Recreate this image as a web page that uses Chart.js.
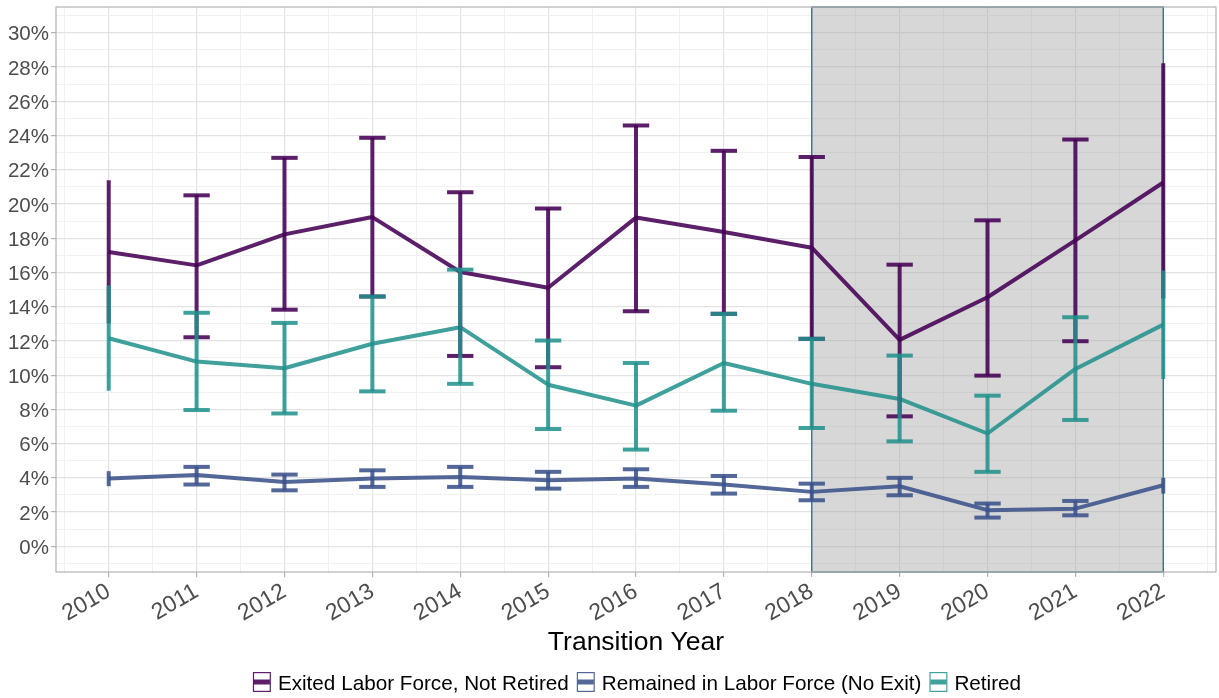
<!DOCTYPE html>
<html>
<head>
<meta charset="utf-8">
<script src="https://cdn.jsdelivr.net/npm/chart.js@4.4.1/dist/chart.umd.min.js"></script>
<style>
  html, body { margin: 0; padding: 0; background: #ffffff; }
  #wrap { width: 1219px; height: 698px; position: relative; }
  canvas { display: block; }
</style>
</head>
<body>
<div id="wrap"><canvas id="chart" width="1219" height="698"></canvas></div>
<script>
// Transition years (x axis)
const years = [2010, 2011, 2012, 2013, 2014, 2015, 2016, 2017, 2018, 2019, 2020, 2021, 2022];

// Series labels
const seriesNames = [
  'Exited Labor Force, Not Retired',
  'Remained in Labor Force (No Exit)',
  'Retired'
];

// Estimated shares (%) with confidence bounds
const exitedEst  = [17.19, 16.41, 18.22, 19.23, 16.02, 15.10, 19.20, 18.36, 17.44, 12.06, 14.55, 17.87, 21.25];
const exitedLow  = [13.01, 12.21, 13.82, 14.59, 11.12, 10.46, 13.73, 13.58, 12.12,  7.59,  9.97, 11.98, 14.48];
const exitedHigh = [21.38, 20.50, 22.69, 23.86, 20.68, 19.73, 24.58, 23.10, 22.74, 16.45, 19.04, 23.76, 28.21];

const remainedEst  = [3.96, 4.17, 3.76, 3.96, 4.05, 3.86, 3.96, 3.61, 3.18, 3.51, 2.11, 2.20, 3.57];
const remainedLow  = [3.51, 3.61, 3.27, 3.47, 3.47, 3.37, 3.47, 3.08, 2.69, 2.98, 1.68, 1.81, 3.08];
const remainedHigh = [4.39, 4.64, 4.19, 4.44, 4.64, 4.35, 4.50, 4.11, 3.66, 4.00, 2.50, 2.65, 4.00];

const retiredEst  = [12.15, 10.79, 10.40, 11.83, 12.80,  9.44,  8.22, 10.71,  9.49,  8.61, 6.59, 10.36, 12.95];
const retiredLow  = [ 9.09,  7.96,  7.76,  9.05,  9.49,  6.85,  5.65,  7.92,  6.91,  6.13, 4.35,  7.38,  9.78];
const retiredHigh = [15.24, 13.64, 13.05, 14.59, 16.16, 12.02, 10.71, 13.58, 12.12, 11.14, 8.80, 13.38, 16.11];

// Highlighted period
const shadeStart = 2018;
const shadeEnd = 2022;

// Y axis: labelled ticks every 2%, minor lines at odd values
const yMajorTicks = [0, 2, 4, 6, 8, 10, 12, 14, 16, 18, 20, 22, 24, 26, 28, 30];
const yMinorTicks = [-1, 1, 3, 5, 7, 9, 11, 13, 15, 17, 19, 21, 23, 25, 27, 29, 31];
// X axis: labelled years, minor lines halfway between
const xMinorTicks = [2009.5, 2010.5, 2011.5, 2012.5, 2013.5, 2014.5, 2015.5, 2016.5, 2017.5, 2018.5, 2019.5, 2020.5, 2021.5, 2022.5];

const axisTitle = 'Transition Year';

const colors = [
  'rgba(68, 1, 84, 0.88)',
  'rgba(59, 82, 139, 0.88)',
  'rgba(33, 144, 140, 0.86)'
];

const FONT = '"Liberation Sans", Arial, Helvetica, sans-serif';

const series = [
  { name: seriesNames[0], est: exitedEst, low: exitedLow, high: exitedHigh, color: colors[0] },
  { name: seriesNames[1], est: remainedEst, low: remainedLow, high: remainedHigh, color: colors[1] },
  { name: seriesNames[2], est: retiredEst, low: retiredLow, high: retiredHigh, color: colors[2] }
];

const yMajorSet = new Set(yMajorTicks);
const xMajorSet = new Set(years);
const yAllTicks = yMajorTicks.concat(yMinorTicks).sort((a, b) => a - b);
const xAllTicks = years.concat(xMinorTicks).sort((a, b) => a - b);

const capHalfWidth = 0.15; // error bar cap half width, in years

// Shaded period behind the data
const shadePlugin = {
  id: 'shade',
  beforeDatasetsDraw(chart) {
    const { ctx, chartArea, scales } = chart;
    const x0 = scales.x.getPixelForValue(shadeStart);
    const x1 = scales.x.getPixelForValue(shadeEnd);
    ctx.save();
    ctx.fillStyle = 'rgba(160, 160, 160, 0.42)';
    ctx.fillRect(x0, chartArea.top, x1 - x0, chartArea.bottom - chartArea.top);
    ctx.strokeStyle = '#3E7283';
    ctx.lineWidth = 1.4;
    ctx.strokeRect(x0, chartArea.top, x1 - x0, chartArea.bottom - chartArea.top);
    ctx.restore();
  }
};

// Error bars, panel frame, axis title and legend
const decorPlugin = {
  id: 'decor',
  afterDatasetsDraw(chart) {
    const { ctx, chartArea, scales } = chart;
    const xs = scales.x, ys = scales.y;
    const first = years[0], last = years[years.length - 1];
    ctx.save();
    ctx.lineCap = 'butt';
    ctx.lineWidth = 4;
    series.forEach(s => {
      ctx.strokeStyle = s.color;
      years.forEach((yr, i) => {
        const xp = xs.getPixelForValue(yr);
        const yl = ys.getPixelForValue(s.low[i]);
        const yh = ys.getPixelForValue(s.high[i]);
        ctx.beginPath();
        ctx.moveTo(xp, yl);
        ctx.lineTo(xp, yh);
        ctx.stroke();
        if (yr - capHalfWidth >= first && yr + capHalfWidth <= last) {
          const xa = xs.getPixelForValue(yr - capHalfWidth);
          const xb = xs.getPixelForValue(yr + capHalfWidth);
          [yl, yh].forEach(yy => {
            ctx.beginPath();
            ctx.moveTo(xa, yy);
            ctx.lineTo(xb, yy);
            ctx.stroke();
          });
        }
      });
    });
    ctx.restore();

    // panel frame
    ctx.save();
    ctx.strokeStyle = '#B3B3B3';
    ctx.lineWidth = 1.2;
    ctx.strokeRect(chartArea.left, chartArea.top, chartArea.right - chartArea.left, chartArea.bottom - chartArea.top);
    ctx.restore();
  },
  afterDraw(chart) {
    const { ctx, chartArea } = chart;
    const cx = (chartArea.left + chartArea.right) / 2;
    ctx.save();
    // axis title
    ctx.fillStyle = '#000000';
    ctx.font = '26.5px ' + FONT;
    ctx.textAlign = 'center';
    ctx.textBaseline = 'alphabetic';
    ctx.fillText(axisTitle, cx, 650);

    // legend
    ctx.font = '20.7px ' + FONT;
    ctx.textAlign = 'left';
    const keyW = 18, keyH = 20, keyGap = 7, itemGap = 8;
    const widths = series.map(s => ctx.measureText(s.name).width);
    const total = widths.reduce((a, w) => a + keyW + keyGap + w, 0) + itemGap * (series.length - 1);
    let x = cx - total / 2 + 1;
    const keyTop = 672;
    series.forEach((s, i) => {
      ctx.fillStyle = '#ffffff';
      ctx.fillRect(x, keyTop, keyW, keyH);
      ctx.strokeStyle = s.color;
      ctx.lineWidth = 1.2;
      ctx.strokeRect(x + 0.6, keyTop + 0.6, keyW - 1.2, keyH - 1.2);
      ctx.lineWidth = 5;
      ctx.beginPath();
      ctx.moveTo(x + 1, keyTop + keyH / 2);
      ctx.lineTo(x + keyW - 1, keyTop + keyH / 2);
      ctx.stroke();
      ctx.fillStyle = '#000000';
      ctx.fillText(s.name, x + keyW + keyGap, 690);
      x += keyW + keyGap + widths[i] + itemGap;
    });
    ctx.restore();
  }
};

const datasets = series.map((s, i) => ({
  label: s.name,
  data: years.map((yr, j) => ({ x: yr, y: s.est[j] })),
  borderColor: s.color,
  backgroundColor: s.color,
  borderWidth: 4,
  borderJoinStyle: 'round',
  borderCapStyle: 'butt',
  pointRadius: 0,
  pointHoverRadius: 0,
  tension: 0,
  fill: false,
  order: series.length - 1 - i
}));

new Chart(document.getElementById('chart'), {
  type: 'line',
  data: { datasets },
  options: {
    responsive: false,
    animation: false,
    devicePixelRatio: 1,
    layout: { padding: { top: 7, right: 3, bottom: 0, left: 0 } },
    plugins: {
      legend: { display: false },
      tooltip: { enabled: false },
      title: { display: false }
    },
    scales: {
      x: {
        type: 'linear',
        min: 2009.4,
        max: 2022.6,
        afterBuildTicks(scale) { scale.ticks = xAllTicks.map(v => ({ value: v })); },
        afterFit(scale) {
          scale.height = 126;
          scale.paddingLeft = 0;
          scale.paddingRight = 0;
        },
        border: { display: false },
        grid: {
          color: c => xMajorSet.has(c.tick.value) ? '#E3E3E3' : '#F1F1F1',
          lineWidth: c => xMajorSet.has(c.tick.value) ? 1.2 : 1,
          tickColor: c => xMajorSet.has(c.tick.value) ? '#B3B3B3' : 'rgba(0,0,0,0)',
          tickLength: 5,
          drawTicks: true
        },
        ticks: {
          autoSkip: false,
          minRotation: 30,
          maxRotation: 30,
          padding: 1,
          color: '#4D4D4D',
          font: { family: FONT, size: 23 },
          callback: v => xMajorSet.has(v) ? String(v) : ''
        }
      },
      y: {
        type: 'linear',
        min: -1.5,
        max: 31.5,
        afterBuildTicks(scale) { scale.ticks = yAllTicks.map(v => ({ value: v })); },
        afterFit(scale) {
          scale.width = 56;
          scale.paddingTop = 0;
          scale.paddingBottom = 0;
        },
        border: { display: false },
        grid: {
          color: c => yMajorSet.has(c.tick.value) ? '#E3E3E3' : '#F1F1F1',
          lineWidth: c => yMajorSet.has(c.tick.value) ? 1.2 : 1,
          tickColor: c => yMajorSet.has(c.tick.value) ? '#B3B3B3' : 'rgba(0,0,0,0)',
          tickLength: 5,
          drawTicks: true
        },
        ticks: {
          autoSkip: false,
          padding: 2,
          labelOffset: 2,
          color: '#4D4D4D',
          font: { family: FONT, size: 20.5 },
          callback: v => yMajorSet.has(v) ? v + '%' : ''
        }
      }
    }
  },
  plugins: [shadePlugin, decorPlugin]
});
</script>
</body>
</html>
